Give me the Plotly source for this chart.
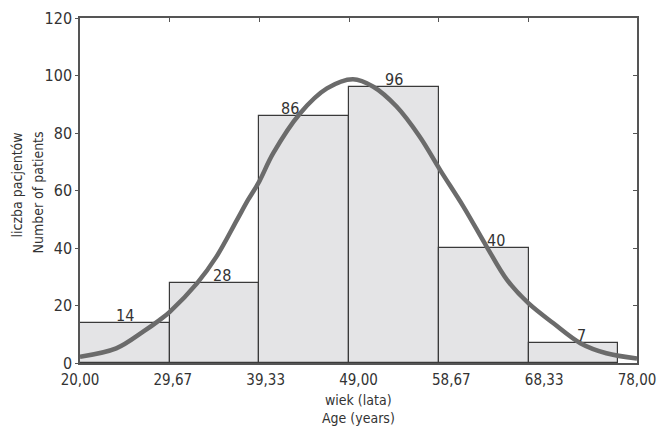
import plotly.graph_objects as go

# ---- data ----
bin_edges = [20.00, 29.67, 39.33, 49.00, 58.67, 68.33, 78.00]
counts = [14, 28, 86, 96, 40, 7]
x_tick_labels = ["20,00", "29,67", "39,33", "49,00", "58,67", "68,33", "78,00"]
y_ticks = [0, 20, 40, 60, 80, 100, 120]

# fitted normal curve
curve_x = [20.0, 23.9, 26.8, 28.6, 29.7, 32.6, 34.7, 36.9, 38.1, 39.3, 40.8, 43.7,
           46.6, 49.4, 51.6, 54.1, 56.6, 58.8, 61.3, 63.8, 66.0, 68.3, 71.0, 73.9,
           76.7, 80.0]
curve_y = [2.2, 5.1, 10.9, 15.0, 17.9, 27.7, 37.0, 49.7, 56.7, 63.1, 72.9, 86.8,
           95.5, 98.7, 96.1, 89.2, 78.7, 67.1, 54.4, 40.5, 28.9, 20.8, 13.8, 6.9,
           3.4, 1.6]

FONT = "DejaVu Sans Condensed, sans-serif"
TXT = "#333333"
FRAME = "#555555"
FS = 16
# pixel nudges of the count labels (keep them clear of the curve, as in the original)
LABEL_NUDGE = [0, 7, -14, 0, 12, 8]

centers = [(a + b) / 2 for a, b in zip(bin_edges[:-1], bin_edges[1:])]
widths = [b - a for a, b in zip(bin_edges[:-1], bin_edges[1:])]
n_ticks = len(x_tick_labels)
x_tick_pos = [20 + k * 60 / (n_ticks - 1) for k in range(n_ticks)]

fig = go.Figure()
fig.add_trace(go.Bar(
    x=centers, y=counts, width=widths,
    marker=dict(color="#e4e4e6", line=dict(color="#3a3a3a", width=1.2)),
    hoverinfo="skip", showlegend=False,
))
fig.add_trace(go.Scatter(
    x=curve_x, y=curve_y, mode="lines", line=dict(color="#6b6b6b", width=4.5, shape="spline"),
    hoverinfo="skip", showlegend=False,
))
# invisible helper for the top/right tick axes
fig.add_trace(go.Scatter(x=[bin_edges[0]], y=[0], xaxis="x2", yaxis="y2", mode="markers",
                         marker=dict(opacity=0), showlegend=False, hoverinfo="skip"))

for c, v, dx in zip(centers, counts, LABEL_NUDGE):
    fig.add_annotation(x=c, y=v, text=str(v), showarrow=False, yanchor="bottom", yshift=-4,
                       xshift=dx, font=dict(family=FONT, size=FS, color=TXT))

common = dict(showline=True, linecolor=FRAME, linewidth=1.5, showgrid=False, zeroline=False,
              automargin=False)
fig.update_layout(
    width=657, height=428,
    margin=dict(l=80, r=20, t=18, b=65),
    plot_bgcolor="white", paper_bgcolor="white",
    bargap=0,
    font=dict(family=FONT, size=FS, color=TXT),
    xaxis=dict(range=[20, 80], tickvals=x_tick_pos, ticktext=x_tick_labels, ticks="",
               ticklabeloverflow="allow", ticklabelstandoff=2,
               tickfont=dict(family=FONT, size=15, color=TXT), **common),
    yaxis=dict(range=[0, 120], tickvals=y_ticks, ticks="outside", ticklen=3, tickcolor=FRAME,
               tickfont=dict(family=FONT, size=FS, color=TXT), **common),
    xaxis2=dict(range=[20, 80], overlaying="x", side="top", tickvals=bin_edges[1:-1],
                ticks="inside", ticklen=4, tickcolor=FRAME, showticklabels=False, **common),
    yaxis2=dict(range=[0, 120], overlaying="y", side="right", tickvals=y_ticks,
                ticks="inside", ticklen=4, tickcolor=FRAME, showticklabels=False, **common),
)

# axis titles
TF = dict(family=FONT, size=14, color=TXT)
fig.add_annotation(xref="paper", yref="paper", x=0.5, y=0, yshift=-37, xanchor="center",
                   yanchor="middle", text="wiek (lata)", showarrow=False, font=TF)
fig.add_annotation(xref="paper", yref="paper", x=0.5, y=0, yshift=-55, xanchor="center",
                   yanchor="middle", text="Age (years)", showarrow=False, font=TF)
fig.add_annotation(xref="paper", yref="paper", x=0, xshift=-64, y=0.5, yshift=5, textangle=-90,
                   xanchor="center", yanchor="middle",
                   text="liczba pacjentów", showarrow=False, font=TF)
fig.add_annotation(xref="paper", yref="paper", x=0, xshift=-43, y=0.5, yshift=-2, textangle=-90,
                   xanchor="center", yanchor="middle",
                   text="Number of patients", showarrow=False, font=TF)

fig.write_html("out.html", config={"displayModeBar": False},
               post_script="document.body.style.margin='0';")
